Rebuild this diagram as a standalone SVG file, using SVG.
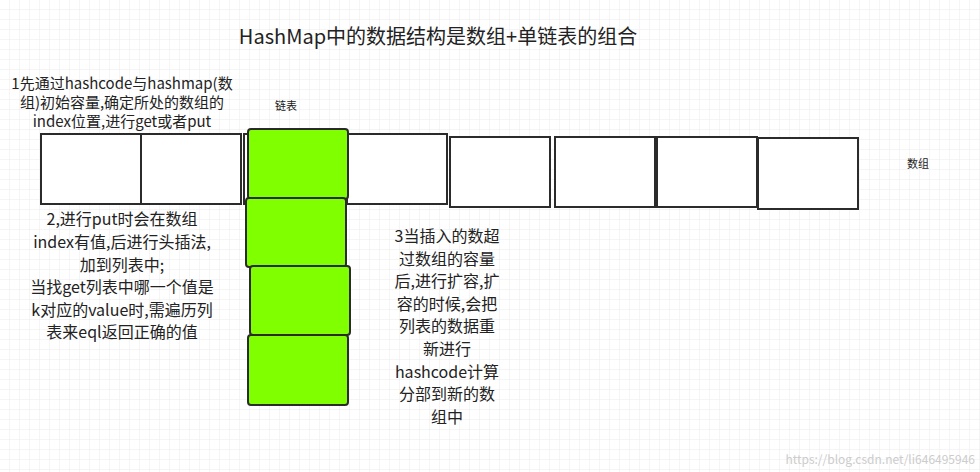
<svg xmlns="http://www.w3.org/2000/svg" width="980" height="472" viewBox="0 0 980 472">
<defs>
<pattern id="g" width="10" height="10" patternUnits="userSpaceOnUse"><path d="M10 0V10H0" fill="none" stroke="#ebebeb" stroke-width="1"/></pattern>
<style>
.b{fill:#fff;stroke:#2b2b2b;stroke-width:2}
.gr{fill:#80ff00;stroke:#2b2b2b;stroke-width:2}
text{font-family:"Noto Sans CJK SC","Noto Sans",sans-serif;fill:#222}
.t{font-size:15px;text-anchor:middle}
</style>
</defs>
<rect width="980" height="472" fill="#fff"/>
<rect width="980" height="472" fill="url(#g)"/>
<text x="438" y="44" style="font-size:20px;text-anchor:middle">HashMap中的数据结构是数组+单链表的组合</text>
<g id="note1" class="t"><text x="122" y="89">1先通过hashcode与hashmap(数</text><text x="122" y="108">组)初始容量,确定所处的数组的</text><text x="122" y="127">index位置,进行get或者put</text></g>
<text x="286" y="110" style="font-size:11px;text-anchor:middle">链表</text>
<text x="918" y="168" style="font-size:11px;text-anchor:middle">数组</text>
<g id="a0"><rect class="b" x="41" y="134" width="100" height="70"/></g>
<g id="a1"><rect class="b" x="141" y="134" width="100" height="70"/></g>
<g id="a2"><rect class="b" x="244" y="134" width="103" height="70"/></g>
<g id="a3"><rect class="b" x="347" y="134" width="100" height="70"/></g>
<g id="a4"><rect class="b" x="450" y="137" width="100" height="70"/></g>
<g id="a5"><rect class="b" x="555" y="137" width="100" height="70"/></g>
<g id="a6"><rect class="b" x="657" y="137" width="100" height="70"/></g>
<g id="a7"><rect class="b" x="758" y="138" width="100" height="71"/></g>
<g id="l0"><rect class="gr" x="248" y="129" width="100" height="70" rx="3"/></g>
<g id="l1"><rect class="gr" x="246" y="198" width="100" height="69" rx="3"/></g>
<g id="l2"><rect class="gr" x="250" y="266" width="100" height="69" rx="3"/></g>
<g id="l3"><rect class="gr" x="248" y="335" width="100" height="70" rx="3"/></g>
<g id="note2" class="t" style="font-size:16px"><text x="122" y="225">2,进行put时会在数组</text><text x="122" y="248">index有值,后进行头插法,</text><text x="122" y="271">加到列表中;</text><text x="122" y="293">当找get列表中哪一个值是</text><text x="122" y="316">k对应的value时,需遍历列</text><text x="122" y="338">表来eql返回正确的值</text></g>
<g id="note3" class="t" style="font-size:16px"><text x="447" y="242">3当插入的数超</text><text x="447" y="265">过数组的容量</text><text x="447" y="287">后,进行扩容,扩</text><text x="447" y="310">容的时候,会把</text><text x="447" y="332">列表的数据重</text><text x="447" y="355">新进行</text><text x="447" y="378">hashcode计算</text><text x="447" y="400">分部到新的数</text><text x="447" y="423">组中</text></g>
<g id="connectors"/>
<text x="975" y="464" style="font-size:12px;text-anchor:end;fill:#ccc">https://blog.csdn.net/li646495946</text>
</svg>
